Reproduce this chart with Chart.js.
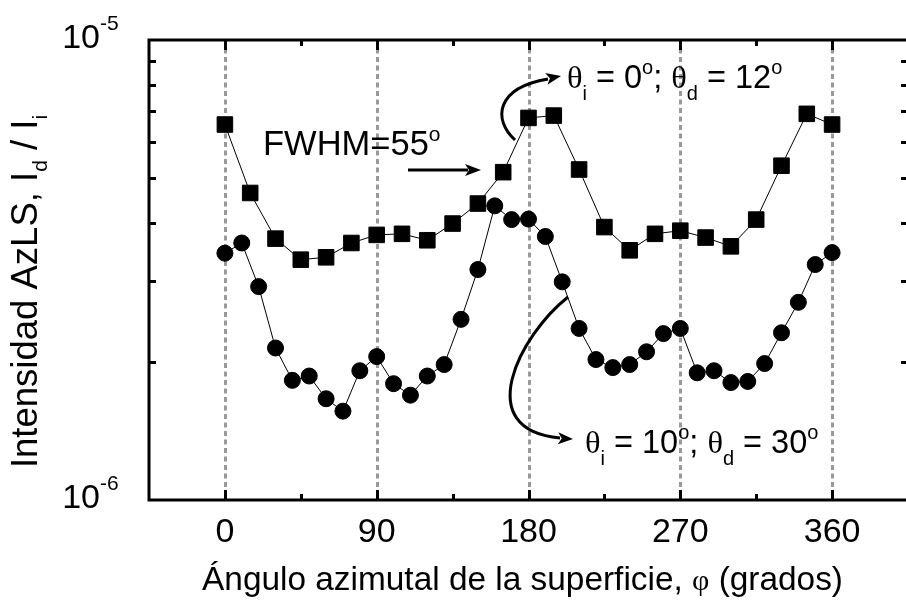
<!DOCTYPE html>
<html><head><meta charset="utf-8">
<script src="https://cdn.jsdelivr.net/npm/chart.js@4.4.1/dist/chart.umd.min.js"></script>
<style>html,body{margin:0;padding:0;overflow:hidden;background:#fff}#wrap{width:920px;height:601px}</style>
</head><body><div id="wrap"><canvas id="c" width="920" height="601"></canvas></div>
<script>
// ---- data (intensity in units of 1e-6) ----
const anglesSquares = [0,15,30,45,60,75,90,105,120,135,150,165,180,195,210,225,240,255,270,285,300,315,330,345,360];
const intensitySquares = [6.55,4.65,3.70,3.33,3.37,3.62,3.77,3.79,3.67,3.99,4.41,5.16,6.77,6.85,5.23,3.92,3.49,3.79,3.85,3.72,3.56,4.07,5.33,6.91,6.55];
const anglesCircles = [0,10,20,30,40,50,60,70,80,90,100,110,120,130,140,150,160,170,180,190,200,210,220,230,240,250,260,270,280,290,300,310,320,330,340,350,360];
const intensityCircles = [3.44,3.62,2.91,2.14,1.82,1.86,1.66,1.56,1.91,2.05,1.79,1.69,1.86,1.97,2.47,3.17,4.36,4.07,4.08,3.74,2.98,2.36,2.02,1.94,1.97,2.10,2.30,2.36,1.89,1.91,1.80,1.81,1.98,2.31,2.69,3.25,3.45];
const xMajorTicks = [0,90,180,270,360];
const xMinorTicks = [45,135,225,315];
const yMajorTicks = [1e-6,1e-5];
const yMinorTicks = [2e-6,3e-6,4e-6,5e-6,6e-6,7e-6,8e-6,9e-6];
const yTickExponents = ['-6','-5'];
const xTitle = ['Ángulo azimutal de la superficie, ','φ',' (grados)'];
const yTitle = ['Intensidad AzLS, I','d',' / I','i'];
const labelTop = ['θ','i',' = 0','o','; ','θ','d',' = 12','o'];
const labelBottom = ['θ','i',' = 10','o','; ','θ','d',' = 30','o'];
const labelFwhm = ['FWHM=55','o'];

const SANS = '"Liberation Sans", Arial, sans-serif';
const SERIF = '"Liberation Serif", "Times New Roman", serif';

function rich(ctx, parts, x, y, align) {
  let w = 0;
  for (const p of parts) { ctx.font = p.f; w += ctx.measureText(p.t).width; }
  let cx = align === 'center' ? x - w / 2 : (align === 'right' ? x - w : x);
  ctx.textAlign = 'left'; ctx.textBaseline = 'alphabetic';
  for (const p of parts) { ctx.font = p.f; ctx.fillText(p.t, cx, y + (p.dy || 0)); cx += ctx.measureText(p.t).width; }
}
function annot(texts, size) {
  const big = size + 'px ' + SANS, th = size + 'px ' + SERIF, sm = Math.round(size * 0.6) + 'px ' + SANS;
  return texts.map(t => {
    if (t === 'θ') return { t, f: th };
    if (t === 'i' || t === 'd') return { t, f: sm, dy: size * 0.36 };
    if (t === 'o') return { t, f: sm, dy: -size * 0.42 };
    return { t, f: big };
  });
}
function arrowHead(ctx, tipX, tipY, ang, len, wid) {
  ctx.beginPath();
  ctx.moveTo(tipX, tipY);
  ctx.lineTo(tipX - len * Math.cos(ang) + wid * Math.sin(ang), tipY - len * Math.sin(ang) - wid * Math.cos(ang));
  ctx.lineTo(tipX - len * Math.cos(ang) * 0.75, tipY - len * Math.sin(ang) * 0.75);
  ctx.lineTo(tipX - len * Math.cos(ang) - wid * Math.sin(ang), tipY - len * Math.sin(ang) + wid * Math.cos(ang));
  ctx.closePath(); ctx.fill();
}

const decor = {
  id: 'decor',
  beforeDatasetsDraw(chart) {
    const { ctx, chartArea: a, scales: { x } } = chart;
    ctx.save();
    ctx.strokeStyle = '#999999'; ctx.lineWidth = 3; ctx.setLineDash([5, 3.5]);
    for (const v of xMajorTicks) {
      const px = Math.round(x.getPixelForValue(v)) + 0.5;
      ctx.beginPath(); ctx.moveTo(px, a.top); ctx.lineTo(px, a.bottom); ctx.stroke();
    }
    ctx.restore();
  },
  afterDraw(chart) {
    const { ctx, chartArea: a, scales: { x, y } } = chart;
    ctx.save();
    ctx.strokeStyle = '#000'; ctx.fillStyle = '#000'; ctx.lineWidth = 3; ctx.setLineDash([]);
    ctx.strokeRect(a.left, a.top, a.right - a.left, a.bottom - a.top);
    const xt = (v, len) => {
      const px = Math.round(x.getPixelForValue(v)) + 0.5;
      ctx.beginPath(); ctx.moveTo(px, a.bottom); ctx.lineTo(px, a.bottom - len);
      ctx.moveTo(px, a.top); ctx.lineTo(px, a.top + len); ctx.stroke();
    };
    xMajorTicks.forEach(v => xt(v, 10)); xMinorTicks.forEach(v => xt(v, 6));
    const yt = (v, len) => {
      const py = Math.round(y.getPixelForValue(v)) + 0.5;
      ctx.beginPath(); ctx.moveTo(a.left, py); ctx.lineTo(a.left + len, py);
      ctx.moveTo(a.right, py); ctx.lineTo(a.right - len, py); ctx.stroke();
    };
    yMinorTicks.forEach(v => yt(v, 7));
    // x tick labels
    ctx.font = '34px ' + SANS; ctx.textAlign = 'center'; ctx.textBaseline = 'alphabetic';
    xMajorTicks.forEach(v => ctx.fillText(String(v), x.getPixelForValue(v), 542));
    // y tick labels 10^n
    yMajorTicks.forEach((v, i) => {
      const py = y.getPixelForValue(v);
      ctx.font = '34px ' + SANS; ctx.textAlign = 'right';
      ctx.fillText('10', 100, py + 8);
      ctx.font = '21px ' + SANS; ctx.textAlign = 'left';
      ctx.fillText(yTickExponents[i], 100, py - 10);
    });
    // x title
    rich(ctx, [
      { t: xTitle[0], f: '33.4px ' + SANS },
      { t: xTitle[1], f: '30px ' + SERIF },
      { t: xTitle[2], f: '33.4px ' + SANS }
    ], 522.5, 590, 'center');
    // y title
    ctx.save(); ctx.translate(37, 291.5); ctx.rotate(-Math.PI / 2);
    rich(ctx, [
      { t: yTitle[0], f: '36.5px ' + SANS },
      { t: yTitle[1], f: '21px ' + SANS, dy: 10 },
      { t: yTitle[2], f: '36.5px ' + SANS },
      { t: yTitle[3], f: '21px ' + SANS, dy: 10 }
    ], 0, 0, 'center');
    ctx.restore();
    // annotations
    rich(ctx, [{ t: labelFwhm[0], f: '34.5px ' + SANS }, { t: labelFwhm[1], f: '21px ' + SANS, dy: -14 }], 263, 155, 'left');
    rich(ctx, annot(labelTop, 32.5), 567, 88, 'left');
    rich(ctx, annot(labelBottom, 32.5), 585, 453, 'left');
    // straight arrow
    ctx.lineWidth = 3;
    ctx.beginPath(); ctx.moveTo(408, 170); ctx.lineTo(468, 170); ctx.stroke();
    arrowHead(ctx, 481, 170, 0, 16, 6);
    // top curved arrow
    ctx.beginPath(); ctx.moveTo(515, 140);
    ctx.bezierCurveTo(493, 120, 495, 88, 548, 79); ctx.stroke();
    arrowHead(ctx, 561, 76, -0.2, 15, 6);
    // bottom curved arrow
    ctx.beginPath(); ctx.moveTo(568, 297);
    ctx.bezierCurveTo(520, 335, 470, 430, 560, 438); ctx.stroke();
    arrowHead(ctx, 573, 439, 0.05, 15, 6);
    ctx.restore();
  }
};

const toPts = (xs, ys) => xs.map((v, i) => ({ x: v, y: ys[i] * 1e-6 }));

new Chart(document.getElementById('c'), {
  type: 'scatter',
  data: {
    datasets: [
      { label: 'θi = 0º; θd = 12º', data: toPts(anglesSquares, intensitySquares), showLine: true,
        borderColor: '#000', borderWidth: 1, pointStyle: 'rect', pointRadius: 11, pointBorderWidth: 1,
        pointBackgroundColor: '#000', pointBorderColor: '#000' },
      { label: 'θi = 10º; θd = 30º', data: toPts(anglesCircles, intensityCircles), showLine: true,
        borderColor: '#000', borderWidth: 1, pointStyle: 'circle', pointRadius: 8, pointBorderWidth: 1,
        pointBackgroundColor: '#000', pointBorderColor: '#000' }
    ]
  },
  options: {
    responsive: false, animation: false, devicePixelRatio: 1,
    layout: { padding: { left: 149, top: 40, right: 9, bottom: 101 } },
    plugins: { legend: { display: false }, tooltip: { enabled: false } },
    scales: {
      x: { type: 'linear', min: -45, max: 405, display: false },
      y: { type: 'logarithmic', min: 1e-6, max: 1e-5, display: false }
    }
  },
  plugins: [decor]
});
</script></body></html>
